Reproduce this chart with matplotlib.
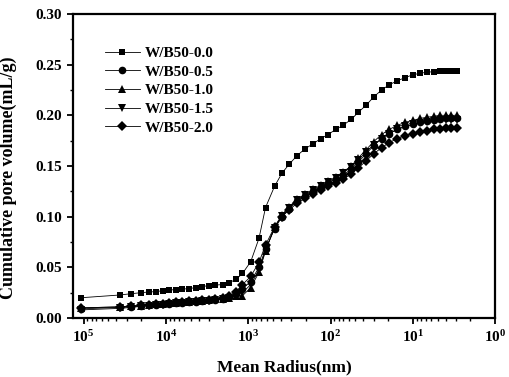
import numpy as np
import matplotlib
matplotlib.use("Agg")
import matplotlib.pyplot as plt
from matplotlib.ticker import FixedLocator, FuncFormatter, MultipleLocator, LogLocator, NullFormatter

plt.rcParams['font.family'] = 'Liberation Serif'
plt.rcParams['font.weight'] = 'bold'
plt.rcParams['mathtext.fontset'] = 'custom'
plt.rcParams['mathtext.rm'] = 'Liberation Serif:bold'
plt.rcParams['mathtext.bf'] = 'Liberation Serif:bold'
plt.rcParams['mathtext.default'] = 'bf'

# mean radius (nm) of each measured point
radius = [107000, 36300, 26300, 19950, 15850, 13200, 10960, 9120, 7590, 6310,
          5250, 4370, 3630, 3020, 2510, 2040, 1700, 1410, 1175, 933,
          741, 617, 479, 389, 316, 257, 204, 162, 132, 107,
          87, 71, 56, 46, 37, 30, 24, 19.5, 15.5, 12.6,
          10, 8.1, 6.8, 5.6, 4.7, 4.0, 3.4, 2.95]

wb_00 = [0.020, 0.0227, 0.024, 0.025, 0.0257, 0.026, 0.027, 0.0276, 0.028, 0.0285,
         0.029, 0.030, 0.031, 0.032, 0.0325, 0.033, 0.035, 0.038, 0.044, 0.0556,
         0.0786, 0.109, 0.130, 0.143, 0.152, 0.160, 0.167, 0.172, 0.177, 0.181,
         0.186, 0.190, 0.196, 0.203, 0.210, 0.218, 0.225, 0.230, 0.234, 0.237,
         0.240, 0.2415, 0.2425, 0.243, 0.2435, 0.244, 0.244, 0.244]

wb_05 = [0.009, 0.0105, 0.011, 0.012, 0.0125, 0.013, 0.0135, 0.014, 0.0145, 0.015,
         0.0155, 0.016, 0.017, 0.0175, 0.018, 0.019, 0.021, 0.024, 0.029, 0.036,
         0.050, 0.068, 0.088, 0.100, 0.108, 0.115, 0.120, 0.125, 0.129, 0.133,
         0.137, 0.141, 0.147, 0.154, 0.162, 0.170, 0.177, 0.182, 0.186, 0.189,
         0.191, 0.193, 0.194, 0.195, 0.196, 0.197, 0.197, 0.197]

wb_10 = [0.010, 0.011, 0.0115, 0.012, 0.013, 0.0135, 0.014, 0.0145, 0.015, 0.0155,
         0.016, 0.0165, 0.017, 0.018, 0.0185, 0.019, 0.020, 0.022, 0.022, 0.030,
         0.045, 0.066, 0.090, 0.102, 0.110, 0.117, 0.122, 0.127, 0.131, 0.135,
         0.139, 0.144, 0.150, 0.158, 0.166, 0.174, 0.181, 0.186, 0.190, 0.193,
         0.195, 0.197, 0.198, 0.199, 0.200, 0.200, 0.200, 0.200]

wb_15 = [0.008, 0.0095, 0.0105, 0.0115, 0.012, 0.0125, 0.013, 0.014, 0.0145, 0.015,
         0.0155, 0.016, 0.0165, 0.017, 0.018, 0.0185, 0.020, 0.023, 0.025, 0.033,
         0.047, 0.067, 0.089, 0.101, 0.109, 0.116, 0.121, 0.126, 0.130, 0.134,
         0.138, 0.143, 0.149, 0.156, 0.164, 0.171, 0.177, 0.182, 0.186, 0.189,
         0.191, 0.192, 0.193, 0.194, 0.195, 0.195, 0.195, 0.195]

wb_20 = [0.010, 0.011, 0.012, 0.0125, 0.013, 0.0135, 0.014, 0.015, 0.0155, 0.016,
         0.0165, 0.017, 0.0175, 0.018, 0.019, 0.020, 0.022, 0.026, 0.033, 0.041,
         0.055, 0.072, 0.090, 0.100, 0.107, 0.113, 0.118, 0.122, 0.126, 0.130,
         0.133, 0.137, 0.142, 0.148, 0.155, 0.162, 0.168, 0.173, 0.177, 0.180,
         0.182, 0.184, 0.185, 0.186, 0.186, 0.187, 0.187, 0.187]

labels = ['W/B50-0.0', 'W/B50-0.5', 'W/B50-1.0', 'W/B50-1.5', 'W/B50-2.0']
series = [wb_00, wb_05, wb_10, wb_15, wb_20]
markers = ['s', 'o', '^', 'v', 'D']
msizes = [5, 5.5, 5.5, 5.5, 5]

fig = plt.figure(figsize=(5.10, 3.77), dpi=100)
ax = fig.add_axes([0.143, 0.1565, 0.828, 0.8065])

for vals, lab, mk, ms in zip(series, labels, markers, msizes):
    ax.plot(radius, vals, color='black', lw=0.6, marker=mk, markersize=ms,
            markeredgewidth=0, label=lab)

ax.set_xscale('log')
ax.set_xlim(10 ** 5.13, 1)
ax.set_ylim(0, 0.30)

ax.xaxis.set_major_locator(FixedLocator([1e5, 1e4, 1e3, 1e2, 1e1, 1e0]))
ax.xaxis.set_major_formatter(FuncFormatter(lambda v, p: r'$\mathbf{10^{%d}}$' % round(np.log10(v))))
ax.xaxis.set_minor_locator(LogLocator(base=10, subs=np.arange(2, 10)))
ax.xaxis.set_minor_formatter(NullFormatter())
ax.yaxis.set_major_locator(MultipleLocator(0.05))
ax.yaxis.set_minor_locator(MultipleLocator(0.025))
ax.yaxis.set_major_formatter(FuncFormatter(lambda v, p: '%.2f' % v))

ax.tick_params(which='major', direction='out', length=4, width=1.3, labelsize=11, pad=4)
ax.tick_params(which='minor', direction='out', length=2.5, width=1.0)
for s in ax.spines.values():
    s.set_linewidth(1.6)

ax.set_xlabel('Mean Radius(nm)', fontsize=12.5, fontweight='bold', labelpad=10)
ax.set_ylabel('Cumulative pore volume(mL/g)', fontsize=13, fontweight='bold')
ax.yaxis.set_label_coords(-0.133, 0.46)

leg = ax.legend(loc='upper left', bbox_to_anchor=(0.043, 0.938), frameon=False,
                fontsize=11, handlelength=2.3, handletextpad=0.3, labelspacing=0.32)

fig.savefig('out.png', dpi=100)
